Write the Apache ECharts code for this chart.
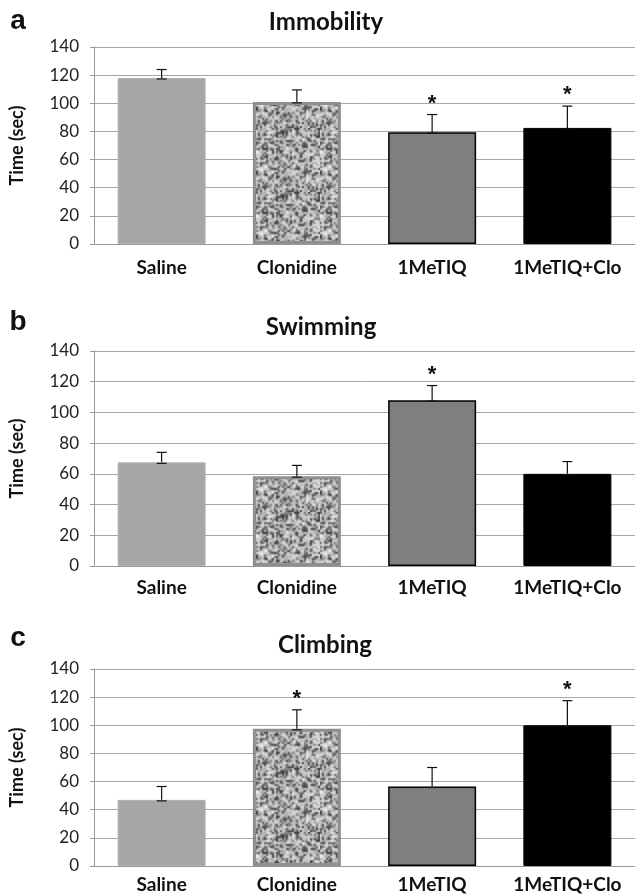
<!DOCTYPE html>
<html>
<head>
<meta charset="utf-8">
<script src="https://cdn.jsdelivr.net/npm/echarts@6/dist/echarts.min.js"></script>
<style>
  html, body { margin: 0; padding: 0; background: #fff; }
  #chart { width: 635px; height: 894px; }
</style>
</head>
<body>
<div id="chart"></div>
<script>
// groups on the x axis
const groups = ['Saline', 'Clonidine', '1MeTIQ', '1MeTIQ+Clo'];
const yTicks = [0, 20, 40, 60, 80, 100, 120, 140];

// panel a - immobility
const immobilityMean = [118, 101, 79.5, 82.5];
const immobilityErr = [6, 8.5, 12.5, 15.5];
const immobilitySig = [0, 0, 1, 1];

// panel b - swimming
const swimmingMean = [67.5, 58.5, 108, 60];
const swimmingErr = [6.5, 7, 9.5, 8];
const swimmingSig = [0, 0, 1, 0];

// panel c - climbing
const climbingMean = [47, 97.5, 56.5, 100];
const climbingErr = [9.5, 13.5, 13.5, 17.5];
const climbingSig = [0, 1, 0, 1];

const FONT = 'Lato, "Open Sans", sans-serif';

// speckled fill for the clonidine bars (just a texture)
function makeSpeckle() {
  const n = 32, up = 2;
  const noise = document.createElement('canvas');
  noise.width = n; noise.height = n;
  const nctx = noise.getContext('2d');
  const img = nctx.createImageData(n, n);
  let seed = 987654;
  function rnd() {
    seed = (seed * 1103515245 + 12345) & 0x7fffffff;
    return seed / 0x7fffffff;
  }
  for (let i = 0; i < n * n; i++) {
    const r = rnd();
    const g = r < 0.35 ? 45 + r * 260 : 165 + (r - 0.35) * 110;
    img.data[i * 4] = g; img.data[i * 4 + 1] = g; img.data[i * 4 + 2] = g; img.data[i * 4 + 3] = 255;
  }
  nctx.putImageData(img, 0, 0);
  // tile 3x3, scale up and blur, then keep the middle so it repeats cleanly
  const m = n * up;
  const wide = document.createElement('canvas');
  wide.width = m * 3; wide.height = m * 3;
  const wctx = wide.getContext('2d');
  wctx.imageSmoothingEnabled = true;
  wctx.filter = 'blur(0.7px)';
  for (let i = 0; i < 3; i++) for (let j = 0; j < 3; j++) wctx.drawImage(noise, i * m, j * m, m, m);
  const tile = document.createElement('canvas');
  tile.width = m; tile.height = m;
  tile.getContext('2d').drawImage(wide, m, m, m, m, 0, 0, m, m);
  return tile;
}
const speckle = makeSpeckle();

const barStyles = [
  { color: '#a6a6a6', borderColor: '#b3b3b3', borderWidth: 1 },
  { color: { image: speckle, repeat: 'repeat' }, borderColor: '#8f8f8f', borderWidth: 3 },
  { color: '#7f7f7f', borderColor: '#000', borderWidth: 1.5 },
  { color: '#000', borderColor: '#000', borderWidth: 1 }
];

const panels = [
  { letter: 'a', title: 'Immobility', mean: immobilityMean, err: immobilityErr, sig: immobilitySig,
    top: 47, height: 197, titleX: 326, titleY: 22, letterY: 21, labelMargin: 14 },
  { letter: 'b', title: 'Swimming', mean: swimmingMean, err: swimmingErr, sig: swimmingSig,
    top: 351, height: 215, titleX: 321, titleY: 327, letterY: 322, labelMargin: 12 },
  { letter: 'c', title: 'Climbing', mean: climbingMean, err: climbingErr, sig: climbingSig,
    top: 669, height: 197, titleX: 325, titleY: 645, letterY: 638, labelMargin: 9 }
];

function renderErr(params, api) {
  const x = api.value(0), v = api.value(1), e = api.value(2), s = api.value(3);
  const base = api.coord([x, v]);
  const top = api.coord([x, v + e]);
  const cap = 5;
  const st = { stroke: '#111', lineWidth: 1.2 };
  const children = [
    { type: 'line', shape: { x1: base[0], y1: base[1], x2: top[0], y2: top[1] }, style: st },
    { type: 'line', shape: { x1: top[0] - cap, y1: top[1], x2: top[0] + cap, y2: top[1] }, style: st },
    { type: 'line', shape: { x1: base[0] - cap, y1: base[1] + 1, x2: base[0] + cap, y2: base[1] + 1 }, style: st }
  ];
  if (s) {
    children.push({
      type: 'text',
      style: { text: '*', x: top[0], y: top[1] - 11, fill: '#111',
        font: 'bold 22px "Liberation Sans", Arial, sans-serif', textAlign: 'center', textVerticalAlign: 'middle' }
    });
  }
  return { type: 'group', children: children };
}

const grid = [], xAxis = [], yAxis = [], series = [], graphic = [];
panels.forEach(function (p, k) {
  grid.push({ left: 89, right: 0, top: p.top, height: p.height });
  xAxis.push({
    type: 'category', gridIndex: k, data: groups,
    axisLine: { lineStyle: { color: '#999', width: 1 } },
    axisTick: { show: false },
    axisLabel: { interval: 0, color: '#111', fontFamily: FONT, fontWeight: 'bold', fontSize: 19, margin: p.labelMargin }
  });
  yAxis.push({
    type: 'value', gridIndex: k, min: 0, max: 140, interval: 20,
    name: 'Time (sec)', nameLocation: 'middle', nameGap: 68,
    nameTextStyle: { color: '#111', fontFamily: FONT, fontWeight: 'bold', fontSize: 18 },
    axisLine: { show: true, lineStyle: { color: '#999' } },
    axisTick: { show: true, length: 4, lineStyle: { color: '#999' } },
    axisLabel: { color: '#222', fontFamily: FONT, fontSize: 17, margin: 15,
      formatter: function (v) { return yTicks.indexOf(v) >= 0 ? String(v) : ''; } },
    splitLine: { show: true, lineStyle: { color: '#a6a6a6', width: 1 } }
  });
  series.push({
    type: 'bar', xAxisIndex: k, yAxisIndex: k, barWidth: 88,
    data: p.mean.map(function (v, i) { return { value: v, itemStyle: barStyles[i] }; })
  });
  series.push({
    type: 'custom', xAxisIndex: k, yAxisIndex: k, renderItem: renderErr, z: 5,
    encode: { x: 0, y: 1 },
    data: p.mean.map(function (v, i) { return [i, v, p.err[i], p.sig[i]]; })
  });
  graphic.push({
    type: 'text', x: p.titleX, y: p.titleY,
    style: { text: p.title, fill: '#111', font: 'bold 24px ' + FONT, textAlign: 'center', textVerticalAlign: 'middle' }
  });
  graphic.push({
    type: 'text', x: 18, y: p.letterY,
    style: { text: p.letter, fill: '#111', font: 'bold 28px "Liberation Sans", Arial, sans-serif', textAlign: 'center', textVerticalAlign: 'middle' }
  });
});

const chart = echarts.init(document.getElementById('chart'));
chart.setOption({
  backgroundColor: '#fff',
  animation: false,
  grid: grid, xAxis: xAxis, yAxis: yAxis, series: series, graphic: graphic
});
</script>
</body>
</html>
